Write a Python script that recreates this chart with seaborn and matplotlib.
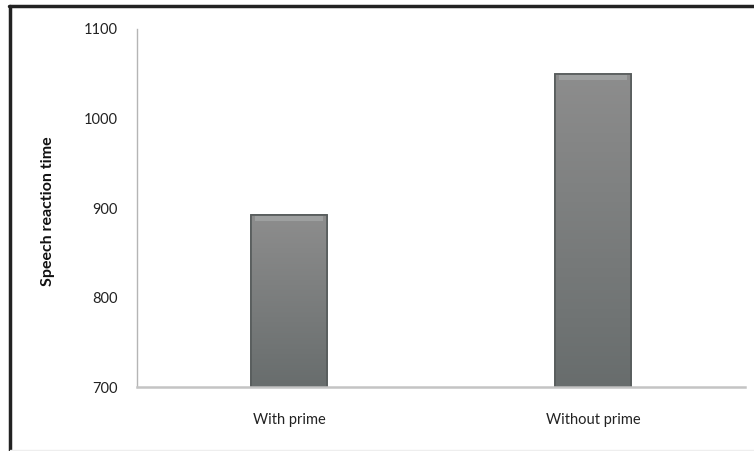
import numpy as np
import pandas as pd
import matplotlib
matplotlib.use('Agg')
import matplotlib.pyplot as plt
import seaborn as sns
from matplotlib.patches import Rectangle
from matplotlib.colors import LinearSegmentedColormap

# data
conditions = ['With prime', 'Without prime']
reaction_time = [892, 1050]
y_ticks = [700, 800, 900, 1000, 1100]

df = pd.DataFrame({'condition': conditions, 'rt': reaction_time})

sns.set_style('white')
plt.rcParams['font.family'] = ['Lato', 'DejaVu Sans']

fig = plt.figure(figsize=(7.54, 4.51), dpi=100)
ax = fig.add_axes([0.1817, 0.1419, 0.8063, 0.7938])

sns.barplot(data=df, x='condition', y='rt', ax=ax, width=0.25,
            color='#7e8282', edgecolor='#565b5b', linewidth=1.2,
            saturation=1)

ymin, ymax = 700, 1100
ax.set_ylim(ymin, ymax)
ax.set_xlim(-0.5, 1.5)
ax.set_yticks(y_ticks)

# grey gradient inside the visible part of each bar, plus a light top bevel
grad = LinearSegmentedColormap.from_list('bar', ['#686d6d', '#8d8d8d'])
for p in list(ax.patches):
    x0, w = p.get_x(), p.get_width()
    top = p.get_y() + p.get_height()
    z = p.get_zorder()
    ax.imshow(np.linspace(0, 1, 100).reshape(-1, 1), cmap=grad,
              extent=[x0, x0 + w, ymin, top], origin='lower',
              aspect='auto', zorder=z + 0.1)
    ax.add_patch(Rectangle((x0 + w * 0.05, top - 7), w * 0.9, 6,
                           facecolor='#9ea0a0', edgecolor='none',
                           zorder=z + 0.2))
    ax.add_patch(Rectangle((x0, ymin), w, top - ymin, facecolor='none',
                           edgecolor='#565b5b', linewidth=1.2,
                           zorder=z + 0.3))
ax.set_xlim(-0.5, 1.5)
ax.set_ylim(ymin, ymax)

for s in ['top', 'right']:
    ax.spines[s].set_visible(False)
ax.spines['left'].set_color('#b5b5b5')
ax.spines['left'].set_linewidth(1.0)
ax.spines['bottom'].set_color('#c4c4c4')
ax.spines['bottom'].set_linewidth(1.8)
ax.spines['bottom'].set_zorder(5)

ax.tick_params(axis='y', direction='out', length=5, width=1,
               color='#b5b5b5', pad=9, labelsize=10.5, labelcolor='#222222')
ax.tick_params(axis='x', length=0, pad=19, labelsize=10.5, labelcolor='#222222')

ax.set_xlabel('')
ax.set_ylabel('Speech reaction time', fontsize=11.5, fontweight='bold',
              color='#111111')
ax.yaxis.set_label_coords(-0.135, 0.49)

# dark picture frame on top and left
fig.add_artist(plt.Line2D([0.0125, 1.0], [0.9878, 0.9878],
                          transform=fig.transFigure, color='#222222', lw=2.5))
fig.add_artist(plt.Line2D([0.0135, 0.0135], [0.0, 0.9878],
                          transform=fig.transFigure, color='#222222', lw=2.5))
fig.add_artist(plt.Line2D([0.0135, 1.0], [0.003, 0.003],
                          transform=fig.transFigure, color='#eeeeee', lw=1))

fig.savefig('out.png', dpi=100)
